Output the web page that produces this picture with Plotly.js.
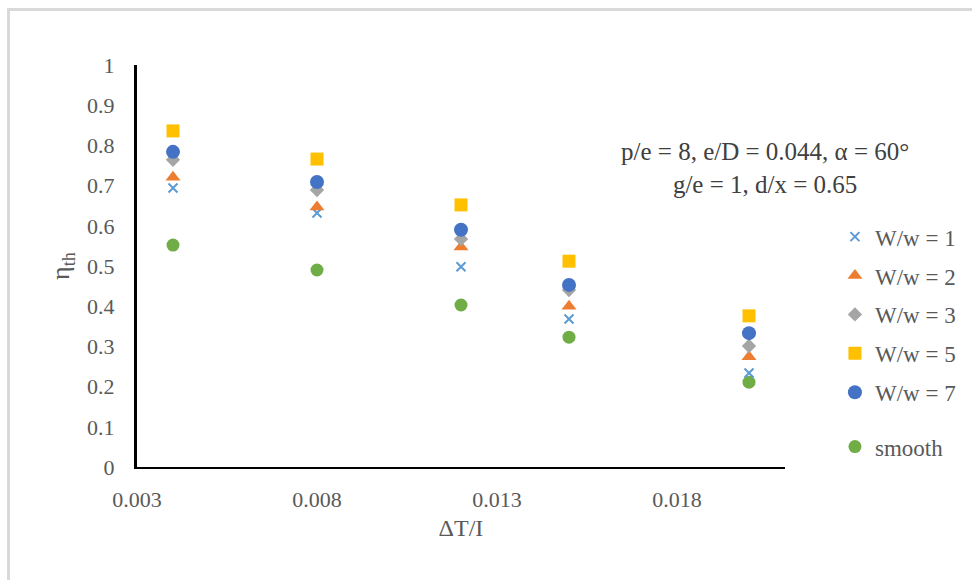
<!DOCTYPE html>
<html>
<head>
<meta charset="utf-8">
<script src="https://cdn.plot.ly/plotly-3.0.1.min.js"></script>
<style>
  html, body { margin: 0; padding: 0; background: #ffffff; }
  #wrap { position: relative; width: 972px; height: 580px; }
  #chart { position: absolute; left: 0; top: 0; width: 972px; height: 580px; }
  #frame { position: absolute; left: 7px; top: 8px; right: 0; bottom: 0;
           border-top: 3px solid #d9d9d9; border-left: 3px solid #d9d9d9; pointer-events: none; }
</style>
</head>
<body>
<div id="wrap">
  <div id="chart"></div>
  <div id="frame"></div>
</div>
<script>
// Data
const xValues = [0.004, 0.008, 0.012, 0.015, 0.020];
const seriesNames = ["W/w = 1", "W/w = 2", "W/w = 3", "W/w = 5", "W/w = 7", "smooth"];
const ww1 = [0.694, 0.632, 0.498, 0.368, 0.234];
const ww2 = [0.721, 0.647, 0.547, 0.400, 0.274];
const ww3 = [0.764, 0.689, 0.567, 0.440, 0.301];
const ww5 = [0.836, 0.766, 0.652, 0.512, 0.376];
const ww7 = [0.784, 0.709, 0.590, 0.453, 0.333];
const smooth = [0.552, 0.490, 0.403, 0.323, 0.211];
const xTickVals = [0.003, 0.008, 0.013, 0.018];
const xTickText = ["0.003", "0.008", "0.013", "0.018"];
const yTickVals = [0, 0.1, 0.2, 0.3, 0.4, 0.5, 0.6, 0.7, 0.8, 0.9, 1];
const yTickText = ["0", "0.1", "0.2", "0.3", "0.4", "0.5", "0.6", "0.7", "0.8", "0.9", "1"];
const annotationLines = ["p/e = 8, e/D = 0.044, α = 60°", "g/e = 1, d/x = 0.65"];

const serif = "Liberation Serif, Times New Roman, serif";

const styles = [
  {symbol: "x-thin-open", color: "#5b9bd5", size: 9, line: {width: 2, color: "#5b9bd5"}},
  {symbol: "triangle-up", color: "#ed7d31", size: 13},
  {symbol: "diamond", color: "#a5a5a5", size: 11},
  {symbol: "square", color: "#ffc000", size: 13},
  {symbol: "circle", color: "#4472c4", size: 14},
  {symbol: "circle", color: "#70ad47", size: 13}
];
const ys = [ww1, ww2, ww3, ww5, ww7, smooth];
// draw order chosen so overlaps look like the reference; legend order kept via legendrank
const order = [5, 0, 1, 2, 4, 3];
const traces = order.map(i => {
  const s = styles[i];
  const m = {symbol: s.symbol, color: s.color, size: s.size};
  if (s.line) m.line = s.line; else m.line = {width: 0};
  return {
    x: xValues, y: ys[i], name: seriesNames[i], type: "scatter", mode: "markers",
    marker: m, legendrank: i + 1, legendgroup: "g" + i,
    legend: i === 5 ? "legend2" : "legend"
  };
});

const layout = {
  width: 972, height: 580,
  paper_bgcolor: "rgba(0,0,0,0)", plot_bgcolor: "rgba(0,0,0,0)",
  margin: {l: 137, r: 187, t: 65, b: 113},
  font: {family: serif, color: "#595959", size: 22},
  xaxis: {
    range: [0.003, 0.021], tickvals: xTickVals, ticktext: xTickText,
    showgrid: false, zeroline: false, showline: true, linecolor: "#000000", linewidth: 2,
    ticks: "", ticklabelstandoff: 12, automargin: false,
    tickfont: {family: serif, size: 22, color: "#595959"},
    title: {text: "ΔT/I", font: {family: serif, size: 24, color: "#595959"}, standoff: 8}
  },
  yaxis: {
    range: [0, 1], tickvals: yTickVals, ticktext: yTickText,
    showgrid: false, zeroline: false, showline: true, linecolor: "#000000", linewidth: 3,
    ticks: "", ticklabelstandoff: 15, automargin: false,
    tickfont: {family: serif, size: 22, color: "#595959"},
    title: {text: "η<sub>th</sub>", font: {family: serif, size: 26, color: "#595959"}, standoff: 10}
  },
  legend: {
    xref: "container", yref: "container",
    x: 0.859, y: 0.629, xanchor: "left", yanchor: "top",
    font: {family: serif, size: 23, color: "#595959"},
    tracegroupgap: 6, itemwidth: 30, bgcolor: "rgba(0,0,0,0)"
  },
  legend2: {
    xref: "container", yref: "container",
    x: 0.859, y: 0.267, xanchor: "left", yanchor: "top",
    font: {family: serif, size: 23, color: "#595959"},
    itemwidth: 30, bgcolor: "rgba(0,0,0,0)"
  },
  annotations: [{
    xref: "paper", yref: "paper", x: 0.969, y: 0.745, xanchor: "center", yanchor: "middle",
    text: annotationLines.join("<br>"), showarrow: false, align: "center",
    font: {family: serif, size: 25, color: "#404040"}
  }]
};

Plotly.newPlot("chart", traces, layout, {displayModeBar: false, staticPlot: true});
</script>
</body>
</html>
